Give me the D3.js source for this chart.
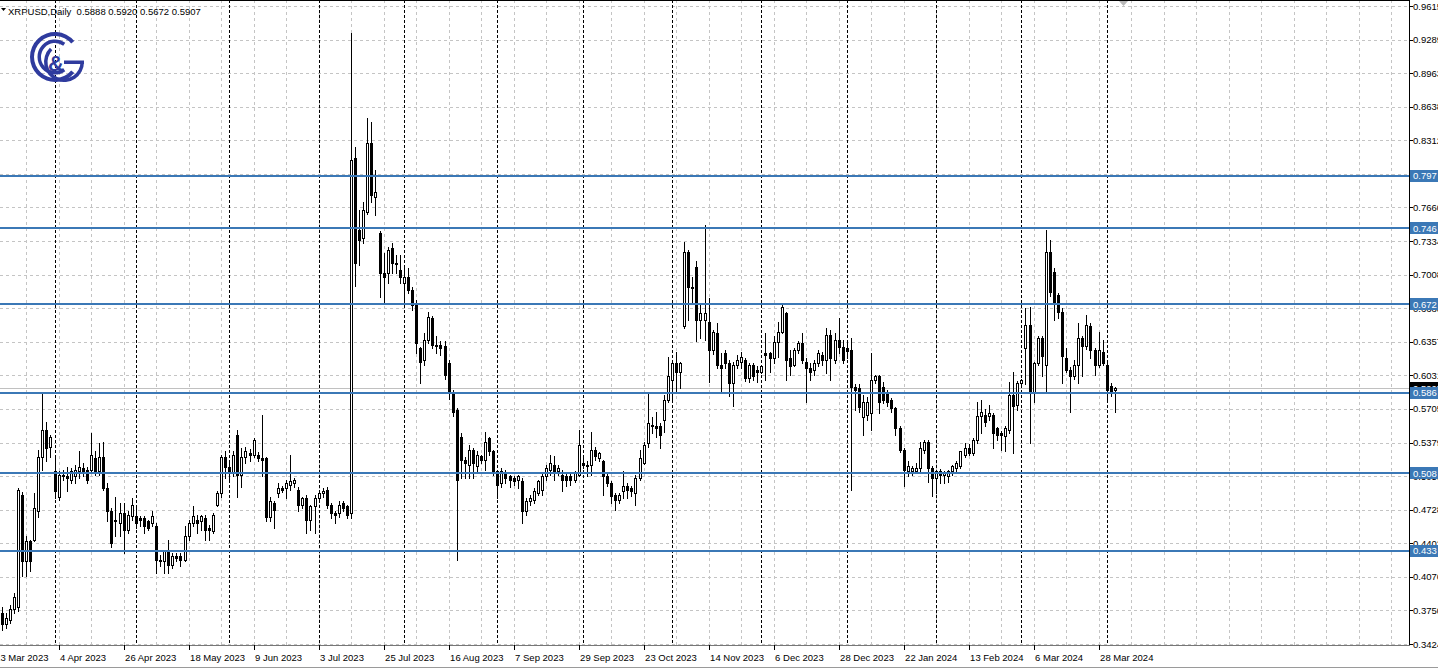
<!DOCTYPE html>
<html><head><meta charset="utf-8">
<script src="https://cdn.jsdelivr.net/npm/d3@7"></script>
<style>
html,body{margin:0;padding:0;background:#fff;overflow:hidden}
svg{display:block}
text{font-family:"Liberation Sans",Arial,sans-serif}
</style>
</head><body>
<svg id="chart" width="1438" height="671"></svg>
<script>
// ---------- DATA ----------
const symbolTitle = "XRPUSD,Daily";
const lastBar = ["0.5888", "0.5920", "0.5672", "0.5907"];
const calendarStart = [2023, 2, 13];   // first date slot on the time axis (13 Mar 2023)
const calendarEnd = [2024, 3, 3];      // last bar (3 Apr 2024)
const missingDays = ["2024-01-01"];
const firstBarSlot = 2;                // candles start on 15 Mar 2023

const open = [
.3720,.3620,.3660,.3760,.3780,.4870,.4225,.4419,.4435,.4710,
.5243,.5502,.5340,.5098,.4855,.5050,.5050,.5017,.5050,.5098,
.5130,.5114,.5114,.5227,.5098,.5237,.4936,.4710,.4629,.4597,
.4700,.4532,.4662,.4662,.4645,.4645,.4613,.4597,.4565,.4241,
.4225,.4312,.4193,.4274,.4280,.4241,.4468,.4597,.4629,.4613,
.4645,.4548,.4516,.4775,.4888,.5243,.5146,.5082,.5454,.5066,
.5243,.5276,.5260,.5260,.5227,.5227,.4661,.4791,.4888,.4936,
.4936,.4969,.4985,.4920,.4775,.4839,.4629,.4759,.4839,.4888,
.4920,.4775,.4694,.4694,.4791,.4759,.4694,.8137,.7442,.7361,
.7620,.8283,.7766,.7410,.7022,.7022,.7264,.7119,.7054,.6925,
.6990,.6860,.6715,.6295,.6181,.6375,.6585,.6327,.6327,.6311,
.6149,.5874,.5696,.5437,.5211,.5163,.5308,.5147,.5244,.5211,
.5421,.5292,.5098,.4985,.5082,.5050,.5034,.5017,.5001,.4710,
.4807,.4823,.4888,.4920,.5050,.5114,.5163,.5098,.5066,.5050,
.5050,.5017,.5066,.5179,.5163,.5163,.5308,.5227,.5195,.5050,
.4985,.4872,.4823,.4904,.4953,.4936,.4888,.5034,.5179,.5373,
.5551,.5535,.5535,.5599,.5793,.5987,.6149,.6068,.6505,.7232,
.6876,.7087,.6569,.6569,.6553,.6278,.6440,.6133,.6246,.6149,
.5955,.6133,.6165,.6181,.6003,.6133,.6085,.6068,.6246,.6246,
.6197,.6359,.6456,.6634,.6197,.6133,.6278,.6343,.6165,.6100,
.6085,.6149,.6230,.6181,.6424,.6181,.6375,.6310,.6300,.6278,
.5922,.5906,.5631,.5647,.5664,.5987,.6020,.5922,.5874,.5793,
.5712,.5518,.5308,.5098,.5098,.5098,.5130,.5310,.5389,.5130,
.5034,.5098,.5066,.5050,.5098,.5130,.5147,.5260,.5330,.5276,
.5405,.5632,.5647,.5632,.5647,.5518,.5470,.5438,.5502,.5842,
.5745,.5955,.6295,.6521,.5874,.6149,.6392,.6133,.7232,.7038,
.6812,.6650,.6198,.6084,.6020,.6133,.6392,.6311,.6505,.6278,
.6133,.6262,.6133,.5923,.5888];

const high = [
.3780,.3720,.3800,.3920,.4940,.4900,.4468,.4435,.4888,.5308,
.5858,.5583,.5454,.5260,.5098,.5114,.5146,.5130,.5163,.5292,
.5179,.5146,.5470,.5292,.5373,.5389,.4985,.4742,.4855,.4791,
.4791,.4710,.4839,.4742,.4662,.4662,.4629,.4710,.4597,.4290,
.4338,.4435,.4306,.4306,.4306,.4565,.4629,.4759,.4678,.4678,
.4678,.4580,.4694,.4904,.5260,.5292,.5195,.5292,.5502,.5324,
.5340,.5320,.5421,.5290,.5648,.5243,.4855,.4807,.4985,.4960,
.5017,.5260,.5034,.4952,.4855,.4871,.4775,.4871,.4904,.4936,
.4952,.4791,.4710,.4807,.4807,.4775,.9350,.8250,.7636,.7717,
.8525,.8493,.8024,.7430,.7216,.7280,.7313,.7200,.7200,.7103,
.7070,.6893,.6763,.6310,.6440,.6650,.6610,.6408,.6360,.6360,
.6181,.5890,.5710,.5470,.5240,.5357,.5324,.5292,.5260,.5486,
.5437,.5308,.5114,.5130,.5114,.5066,.5050,.5066,.5034,.4839,
.4871,.4936,.5017,.5082,.5163,.5260,.5244,.5163,.5114,.5080,
.5080,.5100,.5502,.5260,.5200,.5486,.5340,.5290,.5211,.5082,
.5001,.4890,.4888,.5098,.4985,.4960,.5066,.5308,.5389,.5874,
.5631,.5680,.5567,.5842,.6213,.6181,.6262,.6165,.7329,.7250,
.6990,.7140,.6715,.7490,.6779,.6472,.6537,.6246,.6278,.6181,
.6165,.6230,.6262,.6200,.6150,.6150,.6117,.6133,.6440,.6262,
.6408,.6553,.6731,.6650,.6278,.6300,.6360,.6440,.6200,.6150,
.6181,.6278,.6262,.6488,.6470,.6440,.6585,.6375,.6375,.6391,
.5950,.5950,.5842,.5825,.6246,.6036,.6036,.5970,.5890,.5810,
.5728,.5540,.5330,.5195,.5150,.5180,.5389,.5400,.5400,.5150,
.5110,.5120,.5100,.5110,.5160,.5200,.5300,.5373,.5360,.5420,
.5777,.5793,.5700,.5745,.5670,.5530,.5490,.5535,.5971,.6068,
.5980,.6000,.6682,.6698,.6160,.6408,.6410,.7442,.7345,.7070,
.6830,.6682,.6294,.6110,.6181,.6537,.6410,.6618,.6540,.6300,
.6456,.6375,.6150,.5955,.5920];

const low = [
.3560,.3580,.3630,.3720,.3740,.4080,.4080,.4128,.4419,.4661,
.5114,.5195,.5243,.4839,.4823,.5017,.4904,.4985,.4985,.5034,
.5050,.4985,.5098,.5066,.5066,.4920,.4613,.4370,.4468,.4468,
.4306,.4500,.4629,.4548,.4565,.4500,.4532,.4565,.4112,.4177,
.4112,.4112,.4160,.4225,.4177,.4225,.4435,.4565,.4500,.4532,
.4435,.4435,.4500,.4759,.4855,.5034,.5001,.5050,.4855,.4952,
.5179,.5200,.5243,.5200,.5050,.4613,.4613,.4548,.4855,.4900,
.4839,.4920,.4952,.4710,.4742,.4500,.4532,.4500,.4807,.4855,
.4742,.4645,.4597,.4661,.4710,.4645,.4645,.6900,.7100,.7313,
.7600,.7717,.7588,.6796,.6731,.6925,.7022,.7022,.6925,.6747,
.6828,.6666,.6246,.5955,.6130,.6340,.6295,.6246,.6230,.6000,
.5800,.5640,.4241,.5034,.5034,.5034,.5034,.5082,.5179,.5114,
.5260,.5066,.4839,.4952,.4985,.4952,.4969,.4936,.4597,.4678,
.4775,.4791,.4870,.4872,.5017,.5066,.5017,.5066,.4904,.4953,
.4970,.5000,.5050,.5130,.5050,.5066,.5211,.5200,.4872,.4953,
.4791,.4726,.4791,.4840,.4840,.4856,.4775,.5017,.5170,.5340,
.5470,.5437,.5324,.5486,.5777,.5793,.5874,.5906,.6488,.6570,
.6730,.6360,.6392,.6376,.5971,.6240,.6100,.5858,.6100,.5830,
.5729,.6100,.6100,.5980,.5970,.5987,.5971,.6050,.5987,.6068,
.6150,.6213,.6440,.5987,.6036,.6117,.6250,.6150,.5777,.5987,
.6036,.6117,.6130,.6052,.5987,.6150,.6250,.6150,.6200,.4920,
.5696,.5680,.5454,.5600,.5502,.5955,.5664,.5760,.5730,.5680,
.5454,.5290,.4953,.5050,.5060,.5080,.5100,.5280,.5000,.4856,
.4888,.4985,.4985,.5000,.5060,.5100,.5130,.5240,.5260,.5260,
.5373,.5470,.5535,.5600,.5324,.5405,.5308,.5292,.5470,.5276,
.5696,.5930,.5950,.5373,.5777,.6130,.6020,.5858,.6800,.6569,
.6585,.5955,.6060,.5680,.6000,.5955,.6020,.6290,.6200,.6036,
.6110,.6130,.5793,.5830,.5672];

const close = [
.3620,.3680,.3760,.3880,.4920,.4225,.4419,.4225,.4742,.5243,
.5502,.5324,.5437,.4904,.5066,.5066,.5034,.5098,.5114,.5146,
.5098,.5017,.5260,.5098,.5243,.4936,.4710,.4403,.4613,.4694,
.4532,.4678,.4775,.4597,.4629,.4565,.4548,.4662,.4241,.4225,
.4322,.4193,.4274,.4258,.4241,.4468,.4597,.4662,.4597,.4662,
.4532,.4532,.4678,.4888,.5243,.5146,.5082,.5260,.5066,.5243,
.5292,.5260,.5405,.5227,.5211,.4661,.4807,.4726,.4936,.4920,
.4985,.5001,.5017,.4775,.4839,.4629,.4759,.4839,.4888,.4904,
.4775,.4694,.4678,.4775,.4742,.4678,.8121,.7119,.7345,.7636,
.8283,.7782,.7814,.7022,.6990,.7248,.7119,.7110,.6990,.6990,
.6860,.6715,.6343,.6165,.6375,.6601,.6327,.6311,.6295,.6036,
.5874,.5680,.5017,.5211,.5179,.5308,.5179,.5260,.5211,.5389,
.5292,.5098,.4969,.5098,.5034,.5017,.5001,.5050,.4710,.4807,
.4839,.4904,.5001,.5050,.5130,.5179,.5098,.5130,.5017,.5017,
.5017,.5082,.5357,.5163,.5150,.5308,.5244,.5276,.5050,.4985,
.4856,.4823,.4872,.4953,.4920,.4904,.5034,.5227,.5357,.5567,
.5535,.5518,.5454,.5793,.6020,.6149,.6068,.6149,.7232,.6892,
.6892,.6569,.6634,.6634,.6278,.6456,.6133,.6100,.6149,.5955,
.6133,.6181,.6213,.6003,.6133,.6020,.6068,.6117,.6230,.6197,
.6359,.6456,.6698,.6181,.6117,.6278,.6343,.6181,.6100,.6068,
.6149,.6246,.6181,.6424,.6197,.6375,.6310,.6181,.6270,.5922,
.5890,.5728,.5777,.5777,.5987,.6020,.5777,.5793,.5777,.5712,
.5520,.5308,.5114,.5147,.5130,.5130,.5325,.5389,.5130,.5034,
.5098,.5066,.5082,.5098,.5147,.5179,.5292,.5325,.5282,.5405,
.5632,.5680,.5583,.5664,.5470,.5454,.5454,.5518,.5842,.5729,
.5955,.5987,.6521,.5874,.6149,.6392,.6214,.7232,.6843,.6747,
.6650,.6214,.6084,.6020,.6133,.6392,.6311,.6521,.6278,.6133,
.6278,.6149,.5890,.5874,.5907];

const priceTicks = [0.9615,0.9289,0.8963,0.8638,0.8312,0.7986,0.7660,0.7334,0.7008,0.6683,
                    0.6357,0.6031,0.5705,0.5379,0.5053,0.4728,0.4402,0.4076,0.3750,0.3424];
const priceTickLabels = ["0.9615","0.9289","0.8963","0.8638","0.8312","0.7986","0.7660","0.7334","0.7008","0.6683",
                         "0.6357","0.6031","0.5705","0.5379","0.5053","0.4728","0.4402","0.4076","0.3750","0.3424"];
const levels = [0.797, 0.746, 0.672, 0.586, 0.508, 0.433];
const levelLabels = ["0.797", "0.746", "0.672", "0.586", "0.508", "0.433"];
const bidPrice = 0.5907;
const bidLabel = "0.5907";
const dateLabelEvery = 16;
const gridEvery = 8;

// ---------- LAYOUT ----------
const W = 1438, H = 671;
const plotRight = 1409, plotBottom = 645;
const barStep = 4.0625;
const svg = d3.select("#chart");

// time slots (weekday calendar)
const pad = n => String(n).padStart(2, "0");
const dayKey = d => d.getFullYear() + "-" + pad(d.getMonth() + 1) + "-" + pad(d.getDate());
const dates = [];
const endD = new Date(calendarEnd[0], calendarEnd[1], calendarEnd[2]);
for (let d = new Date(calendarStart[0], calendarStart[1], calendarStart[2]); d <= endD; d.setDate(d.getDate() + 1)) {
  const wd = d.getDay();
  if (wd === 0 || wd === 6 || missingDays.includes(dayKey(d))) continue;
  dates.push(new Date(d));
}
const N = dates.length;

const x = d3.scaleLinear().domain([0, N - 1]).range([-6.4, -6.4 + (N - 1) * barStep]);
const y = d3.scaleLinear().domain([0.3424, 0.9615]).range([644, 6]);

const bars = open.map((o, k) => ({ slot: k + firstBarSlot, o, h: high[k], l: low[k], c: close[k] }));

svg.append("rect").attr("width", W).attr("height", H).attr("fill", "#fff");

svg.append("defs").append("clipPath").attr("id", "plotClip")
  .append("rect").attr("x", 0).attr("y", 0).attr("width", plotRight).attr("height", plotBottom);

const plot = svg.append("g").attr("clip-path", "url(#plotClip)");
const px = v => Math.round(v) + 0.5;

// grid horizontal
plot.append("g").selectAll("line").data(priceTicks).join("line")
  .attr("x1", 0).attr("x2", plotRight)
  .attr("y1", d => px(y(d))).attr("y2", d => px(y(d)))
  .attr("stroke", "#c4c4c4").attr("stroke-dasharray", "3,3").attr("shape-rendering", "crispEdges");

// grid vertical (continues past the last bar)
const gridSlots = [];
for (let s = 0; x(s) < plotRight; s += gridEvery) gridSlots.push(s);
plot.append("g").selectAll("line").data(gridSlots).join("line")
  .attr("x1", d => px(x(d))).attr("x2", d => px(x(d)))
  .attr("y1", 0).attr("y2", plotBottom)
  .attr("stroke", "#c4c4c4").attr("stroke-dasharray", "3,3").attr("shape-rendering", "crispEdges");

// month separators
const monthStarts = [];
for (let s = 1; s < N; s++) if (dates[s].getMonth() !== dates[s - 1].getMonth()) monthStarts.push(s);
plot.append("g").selectAll("line").data(monthStarts).join("line")
  .attr("x1", d => px(x(d))).attr("x2", d => px(x(d)))
  .attr("y1", 0).attr("y2", plotBottom)
  .attr("stroke", "#000").attr("stroke-dasharray", "3,2").attr("shape-rendering", "crispEdges");

// bid line
plot.append("line").attr("x1", 0).attr("x2", plotRight)
  .attr("y1", px(y(bidPrice))).attr("y2", px(y(bidPrice)))
  .attr("stroke", "#c0c0c0").attr("shape-rendering", "crispEdges");

// candles
const cg = plot.append("g").attr("shape-rendering", "crispEdges");
cg.selectAll("line.wick").data(bars).join("line").attr("class", "wick")
  .attr("x1", d => px(x(d.slot))).attr("x2", d => px(x(d.slot)))
  .attr("y1", d => Math.round(y(d.h))).attr("y2", d => Math.round(y(d.l)) + 1)
  .attr("stroke", "#000");
cg.selectAll("rect.body").data(bars).join("rect").attr("class", "body")
  .attr("x", d => px(x(d.slot)) - 1)
  .attr("y", d => px(y(Math.max(d.o, d.c))))
  .attr("width", 2)
  .attr("height", d => Math.max(0, Math.round(y(Math.min(d.o, d.c))) - Math.round(y(Math.max(d.o, d.c)))))
  .attr("fill", d => d.c >= d.o ? "#fff" : "#000")
  .attr("stroke", "#000");

// levels
plot.append("g").selectAll("line").data(levels).join("line")
  .attr("x1", 0).attr("x2", plotRight)
  .attr("y1", d => Math.round(y(d))).attr("y2", d => Math.round(y(d)))
  .attr("stroke", "#3b78b6").attr("stroke-width", 2).attr("shape-rendering", "crispEdges");

// frame / axes
const axis = svg.append("g").attr("shape-rendering", "crispEdges");
axis.append("line").attr("x1", 0).attr("x2", plotRight + 1).attr("y1", 0.5).attr("y2", 0.5).attr("stroke", "#000");
axis.append("line").attr("x1", plotRight + 0.5).attr("x2", plotRight + 0.5).attr("y1", 0).attr("y2", plotBottom + 1).attr("stroke", "#000");
axis.append("line").attr("x1", 0).attr("x2", plotRight + 1).attr("y1", plotBottom + 0.5).attr("y2", plotBottom + 0.5).attr("stroke", "#777");
axis.append("line").attr("x1", 0).attr("x2", W).attr("y1", 667.5).attr("y2", 667.5).attr("stroke", "#9a9a9a");

// price axis ticks + labels
axis.selectAll("line.pt").data(priceTicks).join("line").attr("class", "pt")
  .attr("x1", plotRight).attr("x2", plotRight + 4)
  .attr("y1", d => px(y(d))).attr("y2", d => px(y(d))).attr("stroke", "#000");
svg.append("g").selectAll("text").data(priceTicks).join("text")
  .attr("x", 1413).attr("y", d => y(d) + 3.5)
  .attr("font-size", 9.5).attr("fill", "#000")
  .text((d, i) => priceTickLabels[i]);

// date labels
const labelSlots = [];
for (let s = 0; s < N; s += dateLabelEvery) labelSlots.push(s);
const fmt = d3.timeFormat("%-d %b %Y");
axis.selectAll("line.dt").data(labelSlots).join("line").attr("class", "dt")
  .attr("x1", d => px(x(d))).attr("x2", d => px(x(d)))
  .attr("y1", plotBottom).attr("y2", plotBottom + 5).attr("stroke", "#000");
svg.append("g").selectAll("text").data(labelSlots).join("text")
  .attr("x", d => x(d) + 1.5).attr("y", 660.5)
  .attr("font-size", 9.5).attr("fill", "#000")
  .text(d => fmt(dates[d]));

// bid label (black) then level labels (blue)
const tagG = svg.append("g");
tagG.append("rect").attr("x", 1410).attr("y", Math.round(y(bidPrice)) - 6).attr("width", 30).attr("height", 12).attr("fill", "#000");
tagG.append("text").attr("x", 1413).attr("y", y(bidPrice) + 3.5).attr("font-size", 9.5).attr("fill", "#fff").text(bidLabel);
const lv = tagG.selectAll("g.lv").data(levels).join("g").attr("class", "lv");
lv.append("rect").attr("x", 1410).attr("y", d => Math.round(y(d)) - 6).attr("width", 30).attr("height", 12).attr("fill", "#3b78b6");
lv.append("text").attr("x", 1413).attr("y", d => y(d) + 3.5).attr("font-size", 9.5).attr("fill", "#fff").text((d, i) => levelLabels[i]);

// shift marker
svg.append("path").attr("d", "M1119,1 L1128,1 L1123.5,6 Z").attr("fill", "#b8b8b8");

// header
svg.append("path").attr("d", "M1,8 L6,8 L3.5,11 Z").attr("fill", "#000");
svg.append("text").attr("x", 8).attr("y", 14.5).attr("font-size", 9.5).attr("fill", "#000")
  .attr("xml:space", "preserve")
  .text(symbolTitle + "  " + lastBar.join(" "));

// logo
const logoC = "#2f3b9e";
const lg = svg.append("g");
const arc = d3.arc();
lg.append("path").attr("transform", "translate(55,57)")
  .attr("d", arc({ innerRadius: 21, outerRadius: 25, startAngle: Math.PI * 0.72, endAngle: Math.PI * 2.28 }))
  .attr("fill", logoC);
lg.append("path").attr("transform", "translate(55,57)")
  .attr("d", arc({ innerRadius: 14, outerRadius: 17.5, startAngle: Math.PI * 0.8, endAngle: Math.PI * 2.2 }))
  .attr("fill", logoC);
lg.append("path").attr("transform", "translate(64,62)")
  .attr("d", arc({ innerRadius: 16.5, outerRadius: 20, startAngle: Math.PI * 0.5, endAngle: Math.PI * 1.75 }))
  .attr("fill", logoC);
lg.append("rect").attr("x", 64).attr("y", 60.5).attr("width", 20).attr("height", 3.5).attr("fill", logoC);
lg.append("text").attr("x", 48).attr("y", 71).attr("font-size", 22).attr("font-weight", "bold")
  .attr("fill", logoC).text("&");
</script>
</body></html>
